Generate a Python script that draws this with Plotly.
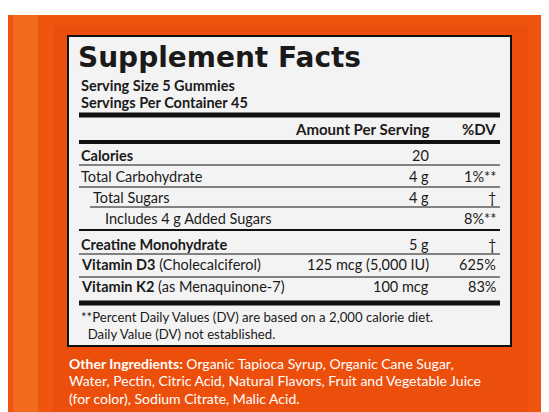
import plotly.graph_objects as go

title = "Supplement Facts"
serving_lines = ["Serving Size 5 Gummies", "Servings Per Container 45"]
header_amount = "Amount Per Serving"
header_dv = "%DV"
row_labels = ["<b>Calories</b>", "Total Carbohydrate", "Total Sugars", "Includes 4 g Added Sugars",
              "<b>Creatine Monohydrate</b>", "<b>Vitamin D3</b> (Cholecalciferol)", "<b>Vitamin K2</b> (as Menaquinone-7)"]
row_indent = [0, 0, 1, 2, 0, 0, 0]
row_amounts = ["20", "4 g", "4 g", "", "5 g", "125 mcg (5,000 IU)", "100 mcg"]
row_dv = ["", "1%**", "†", "8%**", "†", "625%", "83%"]
row_y = [147, 168, 189, 210, 236, 256, 278]
footnotes = ["**Percent Daily Values (DV) are based on a 2,000 calorie diet.", "  Daily Value (DV) not established."]
ingredients = ["<b>Other Ingredients:</b> Organic Tapioca Syrup, Organic Cane Sugar,",
               "Water, Pectin, Citric Acid, Natural Flavors, Fruit and Vegetable Juice",
               "(for color), Sodium Citrate, Malic Acid."]

F = "Lato"
fig = go.Figure()
fig.add_trace(go.Scatter(x=[0, 549], y=[0, 412], mode="markers", marker=dict(opacity=0), hoverinfo="skip"))

shapes = []
shapes.append(dict(type="rect", x0=0, x1=549, y0=7, y1=412, fillcolor="#f05510", line_width=0, layer="below"))
shapes.append(dict(type="rect", x0=5, x1=30, y0=7, y1=412, fillcolor="#f26a1e", line_width=0, layer="below"))
shapes.append(dict(type="rect", x0=45, x1=520, y0=17, y1=405, fillcolor="#ec4f0c", line_width=0, layer="below"))
shapes.append(dict(type="rect", x0=60, x1=503, y0=28, y1=338, fillcolor="#f4f3f3",
                   line=dict(color="#111", width=2), layer="below"))

def hline(y, w, x0=71, x1=492):
    shapes.append(dict(type="line", x0=x0, x1=x1, y0=y, y1=y, line=dict(color="#111", width=w)))

hline(107, 5); hline(134, 4)
hline(157, 1); hline(179, 1); hline(199, 1, x0=82); hline(222, 2)
hline(246, 1); hline(269, 1); hline(295, 5)

ann = []
def txt(x, y, s, size=14.5, anchor="left", color="#1a1a1a", family=F):
    ann.append(dict(x=x, y=y, text=s, showarrow=False, xanchor=anchor, yanchor="middle",
                    font=dict(family=family, size=size, color=color)))

AR, DR = 423, 490
txt(68, 49, "<b>" + title + "</b>", size=28, family="DejaVu Sans")
txt(71, 77, "<b>" + serving_lines[0] + "</b>", size=14.5)
txt(71, 94, "<b>" + serving_lines[1] + "</b>", size=14.5)
txt(AR, 121, "<b>" + header_amount + "</b>", size=15, anchor="right")
txt(DR, 121, "<b>" + header_dv + "</b>", size=15, anchor="right")
for lab, ind, am, dv, y in zip(row_labels, row_indent, row_amounts, row_dv, row_y):
    txt(71 + ind * 12, y, lab)
    if am:
        txt(AR, y, am, anchor="right")
    if dv:
        txt(DR, y, dv, anchor="right")
txt(71, 309, footnotes[0], size=13.2)
txt(71, 326, footnotes[1], size=13.2)
for i, s in enumerate(ingredients):
    txt(59, 355 + i * 17.5, s, size=14, color="white")

fig.update_layout(width=549, height=412, margin=dict(l=0, r=0, t=0, b=0),
                  paper_bgcolor="white", plot_bgcolor="white", showlegend=False,
                  xaxis=dict(range=[0, 549], visible=False, fixedrange=True),
                  yaxis=dict(range=[412, 0], visible=False, fixedrange=True),
                  shapes=shapes, annotations=ann)
fig.write_html("out.html")
